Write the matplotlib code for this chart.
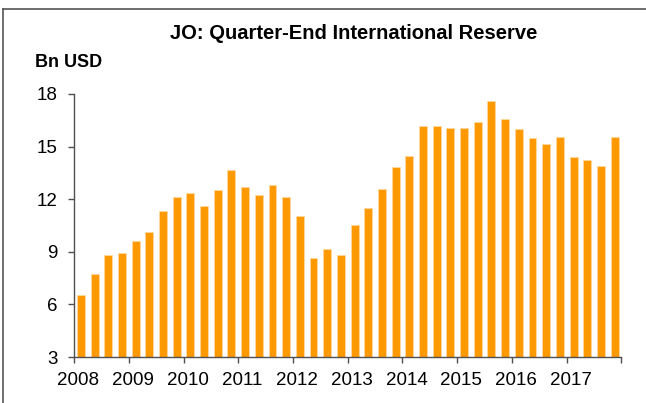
import numpy as np
import matplotlib.pyplot as plt
import matplotlib.transforms as mtransforms

plt.rcParams['font.family'] = ['Liberation Sans', 'DejaVu Sans']

# Quarter-end reserves, Bn USD, 2008Q1 .. 2017Q4
years = list(range(2008, 2018))
reserves = [
    6.54, 7.72, 8.80, 8.92,
    9.60, 10.13, 11.33, 12.15,
    12.36, 11.63, 12.53, 13.65,
    12.70, 12.24, 12.83, 12.11,
    11.04, 8.63, 9.16, 8.82,
    10.55, 11.50, 12.60, 13.82,
    14.47, 16.18, 16.18, 16.04,
    16.04, 16.39, 17.62, 16.58,
    16.02, 15.47, 15.15, 15.53,
    14.41, 14.26, 13.91, 15.57,
]
y_ticks = [3, 6, 9, 12, 15, 18]

bar_color = '#FF9900'
axis_color = '#505050'

# bars sit in the middle of each quarter
pos = years[0] + (np.arange(len(reserves)) + 0.5) / 4

fig = plt.figure(figsize=(6.46, 4.03), dpi=100)
ax = fig.add_axes([0.1146, 0.114, 0.8474, 0.653])

ax.bar(pos, reserves, width=0.145, bottom=0, color=bar_color,
       edgecolor='#FFD8A0', linewidth=0.6)

ax.set_xlim(years[0], years[-1] + 1)
ax.set_ylim(3, 18)
ax.set_yticks(y_ticks)
ax.set_xticks(years + [years[-1] + 1])
ax.set_xticklabels([str(y) for y in years] + [''])

for side in ['top', 'right']:
    ax.spines[side].set_visible(False)
for side in ['left', 'bottom']:
    ax.spines[side].set_color(axis_color)
    ax.spines[side].set_linewidth(1.0)

ax.tick_params(axis='both', direction='out', length=4.5, width=1.0,
               color=axis_color, labelsize=13.5, labelcolor='black')
ax.tick_params(axis='y', pad=7.5)
ax.tick_params(axis='x', pad=6.5)

# year labels sit a little right of their ticks
offset = mtransforms.ScaledTranslation(4 / 100, 0, fig.dpi_scale_trans)
for lbl in ax.get_xticklabels():
    lbl.set_transform(lbl.get_transform() + offset)

fig.text(0.547, 0.917, 'JO: Quarter-End International Reserve',
         ha='center', va='center', fontsize=14.5, fontweight='bold')
fig.text(0.054, 0.844, 'Bn USD', ha='left', va='center',
         fontsize=13, fontweight='bold')

# outer frame (left and top edges visible)
fig.add_artist(plt.Line2D([0.005, 0.005], [0, 0.978], color='#555555',
                          linewidth=1.2, transform=fig.transFigure))
fig.add_artist(plt.Line2D([0.005, 1.0], [0.978, 0.978], color='#555555',
                          linewidth=1.2, transform=fig.transFigure))

fig.savefig('out.png', dpi=100)
